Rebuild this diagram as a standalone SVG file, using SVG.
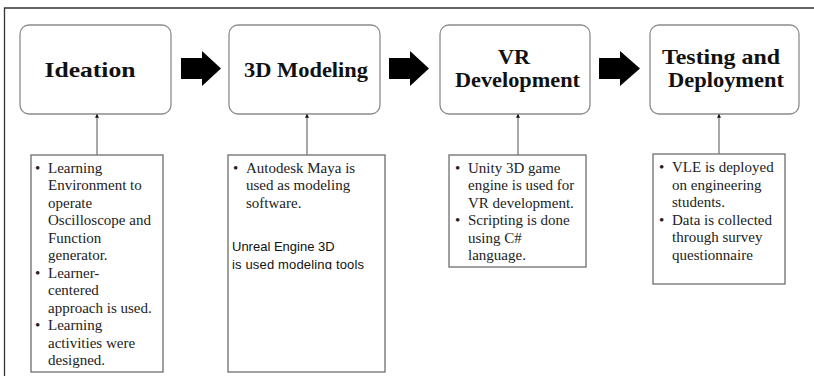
<svg xmlns="http://www.w3.org/2000/svg" width="814" height="376" viewBox="0 0 814 376">
  <style>
    .stage { fill: #fff; stroke: #8c8c8c; stroke-width: 1.3; }
    .note { fill: #fff; stroke: #6e6e6e; stroke-width: 1.3; }
    .title { font-family: "Liberation Serif", "Times New Roman", serif; font-weight: bold; font-size: 21px; fill: #111; text-anchor: middle; }
    .body { font-family: "Liberation Serif", "Times New Roman", serif; font-size: 15px; fill: #222; }
    .sans { font-family: "Liberation Sans", Arial, sans-serif; font-size: 13px; fill: #111; }
    .flow { fill: #000; }
    .link { stroke: #7a7a7a; stroke-width: 1.3; fill: none; marker-end: url(#tip); }
  </style>
  <defs>
    <marker id="tip" viewBox="0 0 6 6" refX="5" refY="3" markerWidth="4" markerHeight="4" markerUnits="userSpaceOnUse" orient="auto">
      <path d="M0,0 L6,3 L0,6 Z" fill="#111"/>
    </marker>
    <clipPath id="cut">
      <rect x="225" y="150" width="165" height="119.5"/>
    </clipPath>
  </defs>

  <rect width="814" height="376" fill="#fff"/>
  <!-- page frame: top and left edge -->
  <path d="M4.5,376 V8 H814" fill="none" stroke="#333" stroke-width="1.3"/>

  <!-- stage boxes -->
  <g id="ideation">
    <rect class="stage" x="20" y="25" width="151" height="89" rx="9"/>
    <text class="title" x="90" y="77" textLength="91" lengthAdjust="spacingAndGlyphs">Ideation</text>
  </g>
  <g id="modeling">
    <rect class="stage" x="229" y="25" width="151" height="89" rx="9"/>
    <text class="title" x="306" y="77" textLength="124" lengthAdjust="spacingAndGlyphs">3D Modeling</text>
  </g>
  <g id="vr-development">
    <rect class="stage" x="440" y="25" width="150" height="89" rx="9"/>
    <text class="title" x="514" y="63.5" textLength="32" lengthAdjust="spacingAndGlyphs">VR</text>
    <text class="title" x="517.5" y="87" textLength="125" lengthAdjust="spacingAndGlyphs">Development</text>
  </g>
  <g id="testing">
    <rect class="stage" x="650" y="25" width="149" height="89" rx="9"/>
    <text class="title" x="721" y="63.5" textLength="118" lengthAdjust="spacingAndGlyphs">Testing and</text>
    <text class="title" x="726" y="87" textLength="116" lengthAdjust="spacingAndGlyphs">Deployment</text>
  </g>

  <!-- detail boxes -->
  <g id="ideation-notes">
    <rect class="note" x="31" y="155" width="132" height="217"/>
    <g class="body">
      <text x="35" y="172.5">•</text>
      <text x="48" y="172.5">Learning</text>
      <text x="48" y="190">Environment to</text>
      <text x="48" y="207.5">operate</text>
      <text x="48" y="225">Oscilloscope and</text>
      <text x="48" y="242.5">Function</text>
      <text x="48" y="260">generator.</text>
      <text x="35" y="277.5">•</text>
      <text x="48" y="277.5">Learner-</text>
      <text x="48" y="295">centered</text>
      <text x="48" y="312.5">approach is used.</text>
      <text x="35" y="330">•</text>
      <text x="48" y="330">Learning</text>
      <text x="48" y="347.5">activities were</text>
      <text x="48" y="365">designed.</text>
    </g>
  </g>
  <g id="modeling-notes">
    <rect class="note" x="228" y="155" width="157" height="217"/>
    <g class="body">
      <text x="233" y="172.5">•</text>
      <text x="246" y="172.5">Autodesk Maya is</text>
      <text x="246" y="190">used as modeling</text>
      <text x="246" y="207.5">software.</text>
    </g>
    <g class="sans" clip-path="url(#cut)">
      <text x="232" y="251">Unreal Engine 3D</text>
      <text x="232" y="269" textLength="132">is used modeling tools</text>
    </g>
  </g>
  <g id="vr-notes">
    <rect class="note" x="449" y="155" width="137" height="112"/>
    <g class="body">
      <text x="455" y="172.5">•</text>
      <text x="468" y="172.5">Unity 3D game</text>
      <text x="468" y="190">engine is used for</text>
      <text x="468" y="207.5">VR development.</text>
      <text x="455" y="225">•</text>
      <text x="468" y="225">Scripting is done</text>
      <text x="468" y="242.5">using C#</text>
      <text x="468" y="260">language.</text>
    </g>
  </g>
  <g id="testing-notes">
    <rect class="note" x="653" y="154" width="132" height="130"/>
    <g class="body">
      <text x="659" y="172">•</text>
      <text x="672" y="172">VLE is deployed</text>
      <text x="672" y="189.5">on engineering</text>
      <text x="672" y="207">students.</text>
      <text x="659" y="224.5">•</text>
      <text x="672" y="224.5">Data is collected</text>
      <text x="672" y="242">through survey</text>
      <text x="672" y="259.5">questionnaire</text>
    </g>
  </g>

  <!-- connectors -->
  <g id="connectors">
    <path class="flow" d="M181,58 H202 V51 L221,68.5 L202,86 V79 H181 Z"/>
    <path class="flow" d="M389,58 H410 V51 L429,68.5 L410,86 V79 H389 Z"/>
    <path class="flow" d="M599,58 H620 V51 L640,68.5 L620,86 V79 H599 Z"/>
    <path class="link" d="M97,155 V114.5"/>
    <path class="link" d="M307,155 V114.5"/>
    <path class="link" d="M518,155 V114.5"/>
    <path class="link" d="M719,154 V114.5"/>
  </g>
</svg>
